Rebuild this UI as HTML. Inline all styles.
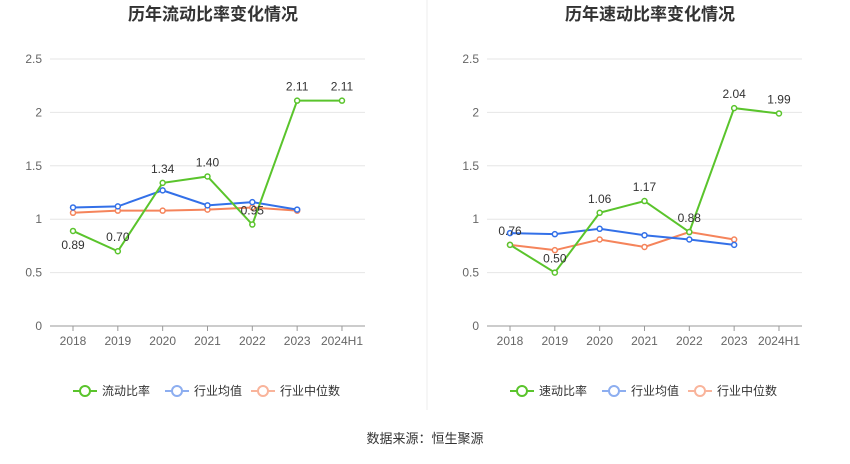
<!DOCTYPE html>
<html><head><meta charset="utf-8"><style>
body{margin:0;background:#fff;width:850px;height:459px;overflow:hidden;font-family:"Liberation Sans","Noto Sans CJK SC",sans-serif}
</style></head><body>
<svg id="s" width="850" height="459" xmlns="http://www.w3.org/2000/svg">
<line x1="427" y1="0" x2="427" y2="410" stroke="#eee"/>
<text x="425" y="443" text-anchor="middle" font-size="13" fill="#333">数据来源：恒生聚源</text>
</svg>
<script>
const categories=["2018","2019","2020","2021","2022","2023","2024H1"];
const yTicks=[0,0.5,1,1.5,2,2.5];
const yTickLabels=["0","0.5","1","1.5","2","2.5"];
const currentRatio=[0.89,0.70,1.34,1.40,0.95,2.11,2.11];
const currentAvg=[1.11,1.12,1.27,1.13,1.16,1.09];
const currentMed=[1.06,1.08,1.08,1.09,1.11,1.08];
const quickRatio=[0.76,0.50,1.06,1.17,0.88,2.04,1.99];
const quickAvg=[0.87,0.86,0.91,0.85,0.81,0.76];
const quickMed=[0.76,0.71,0.81,0.74,0.88,0.81];
const svg=document.getElementById('s');const NS="http://www.w3.org/2000/svg";
function mk(t,a,p){const e=document.createElementNS(NS,t);for(const k in a)e.setAttribute(k,a[k]);(p||svg).appendChild(e);return e;}
function chart(ox,title,name,main,avg,med,key,belowIdx){
 const g=mk('g',{});
 
 
 const x0=ox+73,dx=44.83,y=v=>326-v*106.8;const x=i=>x0+i*dx;
 const t=mk('text',{x:ox+213,y:20,'text-anchor':'middle','font-size':17,'font-weight':'bold',fill:'#333'},g);t.textContent=title;
 
 
 yTicks.forEach((v,i)=>{
  if(v>0)mk('line',{x1:ox+50,x2:ox+365,y1:y(v),y2:y(v),stroke:'#e6e6e6'},g);
  const l=mk('text',{x:ox+42,y:y(v)+4,'text-anchor':'end','font-size':12,fill:'#666'},g);l.textContent=yTickLabels[i];
  
  
 });
 mk('line',{x1:ox+50,x2:ox+365,y1:326,y2:326,stroke:'#999'},g);
 categories.forEach((c,i)=>{
  mk('line',{x1:x(i),x2:x(i),y1:326,y2:331,stroke:'#999'},g);
  const l=mk('text',{x:x(i),y:345,'text-anchor':'middle','font-size':12,fill:'#666'},g);l.textContent=c;
  
  
 });
 function series(d,col,nm,w){
  const p=mk('polyline',{points:d.map((v,i)=>x(i)+','+y(v)).join(' '),fill:'none',stroke:col,'stroke-width':w},g);
  
  
  d.forEach((v,i)=>{const c=mk('circle',{cx:x(i),cy:y(v),r:2.5,fill:'#fff',stroke:col,'stroke-width':1.5},g);
   
   });
 }
 series(med,'#f5845b','industry-median',2);
 series(avg,'#3370e8','industry-average',2);
 series(main,'#5ac42c',key+'-ratio',2);
 main.forEach((v,i)=>{
  const l=mk('text',{x:x(i),y:y(v)+(i===belowIdx?18:-10),'text-anchor':'middle','font-size':12,fill:'#333'},g);l.textContent=v.toFixed(2);
  
  
 });
 const leg=[[name,'#5ac42c',ox+73],['行业均值','#8daef0',ox+165],['行业中位数','#f9b49b',ox+251]];
 leg.forEach(([n,c,lx])=>{
  const lg=mk('g',{},g);
  
  
  mk('line',{x1:lx,x2:lx+24,y1:391,y2:391,stroke:c,'stroke-width':2},lg);
  mk('circle',{cx:lx+12,cy:391,r:5,fill:'#fff',stroke:c,'stroke-width':2},lg);
  const tt=mk('text',{x:lx+29,y:395,'font-size':12,fill:'#333'},lg);tt.textContent=n;
 });
}
chart(0,'历年流动比率变化情况','流动比率',currentRatio,currentAvg,currentMed,'current',0);
chart(437,'历年速动比率变化情况','速动比率',quickRatio,quickAvg,quickMed,'quick',-1);
</script>
</body></html>
